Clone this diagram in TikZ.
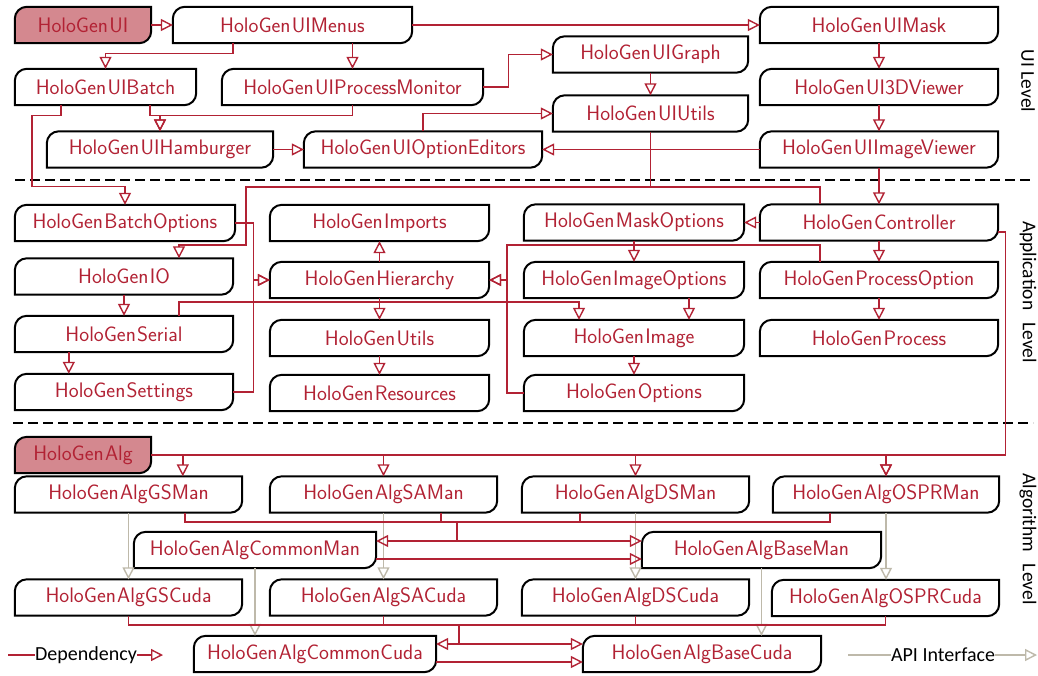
\documentclass[tikz,border=0pt]{standalone}
\usepackage{fontspec}
\newfontfamily\labfont{Carlito}
\usetikzlibrary{arrows.meta}
\definecolor{hgred}{RGB}{178,34,52}
\definecolor{hgfill}{RGB}{212,136,143}
\definecolor{apigray}{RGB}{190,185,170}
\pgfdeclarelayer{back}
\pgfdeclarelayer{bg}
\pgfsetlayers{back,bg,main}
\newcommand\HG{HoloGen\kern1.3pt}
\newcommand\hgshape[2]{%
  \draw[line width=2pt, fill=#2] (#1.south west) -- ([yshift=-12pt]#1.north west)
    arc[start angle=180,end angle=90,radius=12pt] -- (#1.north east)
    -- ([yshift=12pt]#1.south east) arc[start angle=0,end angle=-90,radius=12pt] -- cycle;}
\tikzset{
  hg/.style={inner sep=0pt, minimum height=36pt, minimum width=#1, text=hgred,
    font=\sffamily\fontsize{21}{21}\selectfont},
  hgs/.style={hg=#1, font=\sffamily\fontsize{21}{21}\selectfont\addfontfeature{FakeBold=0.5}},
  link/.style={draw=hgred, line width=1.4pt},
  dep/.style={link, -{Triangle[open,length=12pt,width=12pt]}},
  api/.style={draw=apigray, line width=1.4pt, -{Triangle[open,length=12pt,width=12pt]}},
  sep/.style={draw=black, line width=1.4pt, dash pattern=on 10pt off 5pt},
  lvl/.style={rotate=-90, inner sep=0pt, font=\labfont\fontsize{19.5}{19.5}\selectfont},
  leg/.style={inner sep=0pt, font=\labfont\fontsize{20}{20}\selectfont}
}
\begin{document}
\begin{tikzpicture}[x=1pt,y=-1pt]
\begin{pgfonlayer}{back}
\fill[white] (0,0) rectangle (1038,675);
\end{pgfonlayer}
\useasboundingbox (0,0) rectangle (1038,675);
% ---------------- UI level
\node[hg=136pt] (ui) at (83,25) {\HG UI};
\node[hgs=239pt] (menus) at (292.5,25) {\HG UIMenus};
\node[hgs=181pt] (batch) at (105.5,87) {\HG UIBatch};
\node[hgs=261pt] (pm) at (352.5,87) {\HG UIProcessMonitor};
\node[hgs=226pt] (ham) at (160,149.5) {\HG UIHamburger};
\node[hgs=238pt] (opted) at (423,149.5) {\HG UIOptionEditors};
\node[hgs=195pt] (graph) at (650.5,54.5) {\HG UIGraph};
\node[hgs=195pt] (uiutils) at (650.5,113.5) {\HG UIUtils};
\node[hgs=238pt] (mask) at (879,25) {\HG UIMask};
\node[hgs=238pt] (v3d) at (879,87) {\HG UI3DViewer};
\node[hgs=238pt] (imgv) at (879,149.5) {\HG UIImageViewer};
% ---------------- Application level
\node[hgs=220pt] (bopt) at (125,223) {\HG BatchOptions};
\node[hgs=218pt] (io) at (124,276.5) {\HG IO};
\node[hg=218pt] (serial) at (124,334) {\HG Serial};
\node[hgs=218pt] (settings) at (124,392) {\HG Settings};
\node[hgs=219pt] (imports) at (379.5,223) {\HG Imports};
\node[hgs=219pt] (hier) at (379.5,280) {\HG Hierarchy};
\node[hgs=219pt] (utils) at (379.5,338) {\HG Utils};
\node[hgs=219pt] (res) at (379.5,393) {\HG Resources};
\node[hgs=220pt] (maskopt) at (634,222.5) {\HG MaskOptions};
\node[hgs=220pt] (imgopt) at (634,280) {\HG ImageOptions};
\node[hgs=220pt] (image) at (634,338) {\HG Image};
\node[hgs=220pt] (options) at (634,393) {\HG Options};
\node[hgs=238pt] (ctrl) at (879,222.5) {\HG Controller};
\node[hgs=238pt] (procopt) at (879,280) {\HG ProcessOption};
\node[hgs=238pt] (proc) at (879,338) {\HG Process};
% ---------------- Algorithm level
\node[hg=136pt] (alg) at (83,455) {\HG Alg};
\node[hgs=227pt] (gsman) at (128.5,494.5) {\HG AlgGSMan};
\node[hgs=227pt] (saman) at (383.5,494.5) {\HG AlgSAMan};
\node[hgs=227pt] (dsman) at (635.5,494.5) {\HG AlgDSMan};
\node[hgs=226pt] (osprman) at (886,494.5) {\HG AlgOSPRMan};
\node[hg=242pt] (cman) at (255,550) {\HG AlgCommonMan};
\node[hg=239pt] (bman) at (761.5,550) {\HG AlgBaseMan};
\node[hgs=227pt] (gscuda) at (128.5,597.5) {\HG AlgGSCuda};
\node[hgs=227pt] (sacuda) at (383.5,597.5) {\HG AlgSACuda};
\node[hgs=227pt] (dscuda) at (635.5,597.5) {\HG AlgDSCuda};
\node[hgs=227pt] (osprcuda) at (885.5,598) {\HG AlgOSPRCuda};
\node[hgs=242pt] (ccuda) at (315,654) {\HG AlgCommonCuda};
\node[hgs=238pt] (bcuda) at (702,654) {\HG AlgBaseCuda};
% ---------------- boxes
\begin{pgfonlayer}{bg}
\foreach \n in {menus,batch,pm,ham,opted,graph,uiutils,mask,v3d,imgv,
  bopt,io,serial,settings,imports,hier,utils,res,maskopt,imgopt,image,options,ctrl,procopt,proc,
  gsman,saman,dsman,osprman,cman,bman,gscuda,sacuda,dscuda,osprcuda,ccuda,bcuda}
  {\hgshape{\n}{white}}
\hgshape{ui}{hgfill}
\hgshape{alg}{hgfill}
\end{pgfonlayer}
% ---------------- level separators and labels
\coordinate (d1l) at (15,180); \coordinate (d1r) at (1033,180);
\coordinate (d2l) at (13,423); \coordinate (d2r) at (1033,423);
\draw[sep] (d1l) -- (d1r);
\draw[sep] (d2l) -- (d2r);
\node[lvl] (lv1) at (1028,81) {UI Level};
\node[lvl] (lv2) at (1028,292) {Application\hspace{0.6em}Level};
\node[lvl] (lv3) at (1028,539) {Algorithm\hspace{0.6em}Level};
% ---------------- UI connectors
\draw[dep] (ui.east) -- (menus.west);
\draw[dep] (menus.east) -- (mask.west);
\draw[dep] ([xshift=60pt]menus.south west) -- ++(0,10) -| (batch.north);
\draw[dep] (pm.north |- menus.south) -- (pm.north);
\draw[dep] (pm.east) -- ++(25,0) |- (graph.west);
\draw[dep] (graph.south) -- (uiutils.north);
\draw[dep] (opted.north) |- (uiutils.west);
\draw[dep] ([xshift=135pt]batch.south west) -- ++(0,10) -| (ham.north);
\draw[dep] (pm.south) -- ++(0,10) -| (ham.north);
\draw[dep] (ham.east) -- (opted.west);
\draw[dep] (imgv.west) -- (opted.east);
\draw[dep] (mask.south) -- (v3d.north);
\draw[dep] (v3d.south) -- (imgv.north);
\draw[dep] (imgv.south) -- (ctrl.north);
\draw[dep] ([xshift=46pt]batch.south west) -- ++(0,10) -- ++(-29,0) -- ++(0,71) -| (bopt.north);
% ---------------- Application connectors
\coordinate (j1) at (650.5,187);
\draw[dep] (uiutils.south) -- (j1) -- ++(-404.5,0) -- ++(0,58) -| ([xshift=55pt]io.north);
\draw[link] ([xshift=-59pt]ctrl.north) |- (j1);
\draw[dep] (bopt.east) -- ++(18,0) |- (hier.west);
\draw[dep] (settings.east) -- ++(20,0) |- (hier.west);
\draw[dep] (hier.north) -- (imports.south);
\draw[dep] (hier.south) -- (utils.north);
\draw[dep] (utils.south) -- (res.north);
\draw[dep] (io.south) -- (serial.north);
\draw[dep] ([xshift=54pt]serial.south west) -- ([xshift=54pt]settings.north west);
\draw[dep] ([xshift=164pt]serial.north west) -- ++(0,-14) -| ([xshift=-55pt]image.north);
\coordinate (j2) at (507,245);
\draw[dep] ([xshift=-59pt]procopt.north) |- (j2) |- (hier.east);
\draw[dep] (options.west) -- ++(-17,0) |- (hier.east);
\draw[dep] (maskopt.south) -- (imgopt.north);
\draw[dep] ([xshift=55pt]imgopt.south) -- ([xshift=55pt]image.north);
\draw[dep] (image.south) -- (options.north);
\draw[dep] (ctrl.west) -- (maskopt.east);
\draw[dep] (ctrl.south) -- (procopt.north);
\draw[dep] (procopt.south) -- (proc.north);
% ---------------- API interface
\draw[api] (gsman.south) -- (gscuda.north);
\draw[api] (saman.south) -- (sacuda.north);
\draw[api] (dsman.south) -- (dscuda.north);
\draw[api] (osprman.south) -- (osprman.south |- osprcuda.north);
\draw[api] (cman.south) -- (cman.south |- ccuda.north);
\draw[api] (bman.south) -- (bman.south |- bcuda.north);
% ---------------- Algorithm connectors
\draw[dep] (alg.east) -| ([xshift=168pt]gsman.north west);
\draw[dep] (alg.east) -| (saman.north);
\draw[dep] (alg.east) -| (dsman.north);
\draw[dep] (alg.east) -| (osprman.north);
\draw[dep] ([yshift=-9.5pt]ctrl.east) -- ++(7,0) -- ++(0,223) -| (osprman.north);
\coordinate (j4) at (457,522);
\coordinate (j5) at (457,541);
\draw[link] ([xshift=170pt]gsman.south west) |- (j4);
\draw[link] ([xshift=171pt]saman.south west) |- (j4);
\draw[link] ([xshift=58pt]dsman.south west) |- (j4);
\draw[link] ([xshift=57pt]osprman.south west) |- (j4);
\draw[dep] (j4) -- (j5) -- (cman.east |- j5);
\draw[dep] (j5) -- (bman.west |- j5);
\draw[dep] ([yshift=-9pt]cman.east) -- ([yshift=-9pt]bman.west);
\coordinate (j6) at (459,625);
\coordinate (j7) at (459,644);
\draw[link] (gscuda.south) |- (j6);
\draw[link] (sacuda.south) |- (j6);
\draw[link] (dscuda.south) |- (j6);
\draw[link] (osprcuda.south) |- (j6);
\draw[dep] (j6) -- (j7) -- (ccuda.east |- j7);
\draw[dep] (j7) -- (bcuda.west |- j7);
\draw[dep] ([yshift=-8pt]ccuda.east) -- ([yshift=-8pt]bcuda.west);
% ---------------- legend
\coordinate (depL) at (8,655);
\node[leg] (deptxt) at (86,655) {Dependency};
\coordinate (depR) at (163,655);
\draw[link] (depL) -- (deptxt.west);
\draw[dep] (deptxt.east) -- (depR);
\coordinate (apiL) at (848,655);
\node[leg] (apitxt) at (943,655) {API Interface};
\coordinate (apiR) at (1037,655);
\draw[draw=apigray, line width=1.4pt] (apiL) -- (apitxt.west);
\draw[api] (apitxt.east) -- (apiR);
\end{tikzpicture}
\end{document}
